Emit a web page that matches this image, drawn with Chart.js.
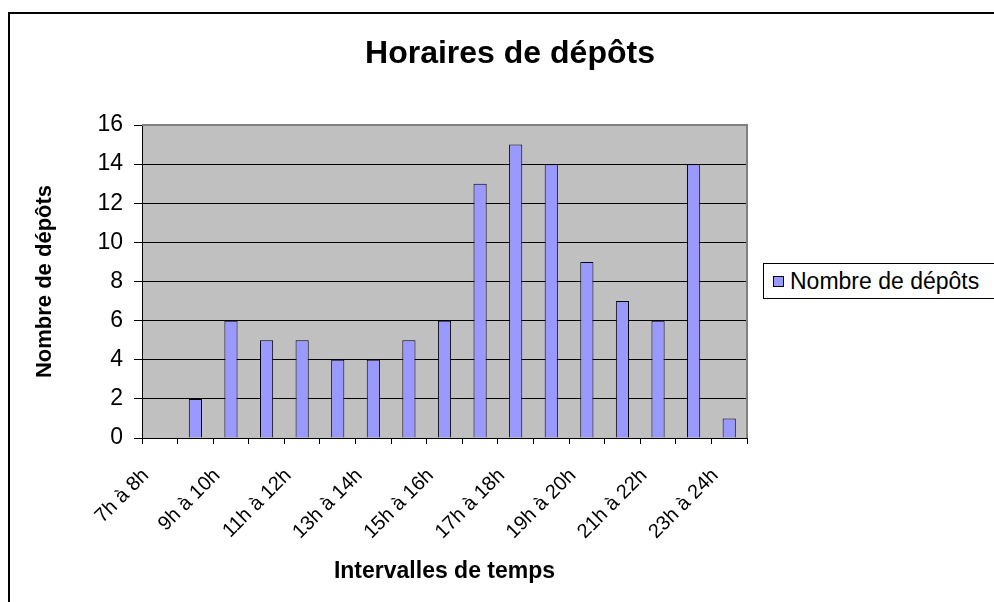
<!DOCTYPE html>
<html lang="fr">
<head>
<meta charset="utf-8">
<title>Horaires de dépôts</title>
<script src="https://cdn.jsdelivr.net/npm/chart.js@4/dist/chart.umd.min.js"></script>
<style>
    body { margin: 0; background: #fff; font-family: "Liberation Sans", Arial, sans-serif; }
    #wrap { position: relative; width: 994px; height: 602px; overflow: hidden; }
    #frame { position: absolute; left: 8px; top: 12px; width: 1000px; height: 600px;
             border-left: 2px solid #000; border-top: 2px solid #000; }
    #chart { position: absolute; left: 0; top: 0; }
    #title { position: absolute; left: 310px; top: 36px; width: 400px; text-align: center;
             font-weight: bold; font-size: 32px; line-height: 32px; color: #000; }
    #legend { position: absolute; left: 763px; top: 263px; width: 260px; height: 34px;
              border: 1px solid #000; background: #fff; font-size: 23px; line-height: 34px;
              white-space: nowrap; }
    #legend span.box { display: inline-block; width: 9px; height: 9px; background: #9999FF;
                       border: 1px solid #000; margin: 0 6px 0 9px; vertical-align: 2px; }
</style>
</head>
<body>
<div id="wrap">
    <div id="frame"></div>
    <canvas id="chart" width="994" height="602"></canvas>
    <div id="title">Horaires de dépôts</div>
    <div id="legend"><span class="box"></span>Nombre de dépôts</div>
</div>
<script>
const categories = ["7h à 8h", "8h à 9h", "9h à 10h", "10h à 11h", "11h à 12h", "12h à 13h",
    "13h à 14h", "14h à 15h", "15h à 16h", "16h à 17h", "17h à 18h", "18h à 19h",
    "19h à 20h", "20h à 21h", "21h à 22h", "22h à 23h", "23h à 24h"];
const depots = [0, 2, 6, 5, 5, 4, 4, 5, 6, 13, 15, 14, 9, 7, 6, 14, 1];
const yTicks = [0, 2, 4, 6, 8, 10, 12, 14, 16];

const FONT = '"Liberation Sans", Arial, sans-serif';

// gray plot area like the spreadsheet chart
const plotBackground = {
    id: "plotBackground",
    beforeDraw(chart) {
        const { ctx, chartArea: a } = chart;
        ctx.save();
        ctx.fillStyle = "#C0C0C0";
        ctx.fillRect(a.left, a.top, a.right - a.left, a.bottom - a.top);
        ctx.restore();
    },
    beforeDatasetsDraw(chart) {
        const { ctx, chartArea: a } = chart;
        ctx.save();
        ctx.strokeStyle = "#808080";
        ctx.lineWidth = 2;
        ctx.beginPath();
        ctx.moveTo(a.left, a.top);
        ctx.lineTo(a.right, a.top);
        ctx.lineTo(a.right, a.bottom);
        ctx.stroke();
        ctx.restore();
    }
};

new Chart(document.getElementById("chart"), {
    type: "bar",
    data: {
        labels: categories,
        datasets: [{
            label: "Nombre de dépôts",
            data: depots,
            backgroundColor: "#9999FF",
            borderColor: "#000",
            borderWidth: 1,
            categoryPercentage: 1,
            barPercentage: 0.37
        }]
    },
    options: {
        responsive: false,
        animation: false,
        devicePixelRatio: 1,
        layout: { padding: { top: 125, right: 247, bottom: 0, left: 0 } },
        plugins: {
            legend: { display: false },
            title: { display: false },
            tooltip: { enabled: false }
        },
        scales: {
            x: {
                afterFit: scale => { scale.height = 164; },
                grid: { drawOnChartArea: false, drawTicks: true, tickLength: 6, color: "#000", offset: true },
                border: { color: "#000", width: 1 },
                ticks: {
                    autoSkip: false,
                    maxRotation: 45,
                    minRotation: 45,
                    padding: 20,
                    labelOffset: -14,
                    color: "#000",
                    font: { family: FONT, size: 20 },
                    callback: function (v, i) { return i % 2 === 0 ? this.getLabelForValue(v) : ""; }
                },
                title: {
                    display: true,
                    text: "Intervalles de temps",
                    color: "#000",
                    font: { family: FONT, size: 23, weight: "bold" },
                    padding: { top: 0, bottom: 17 }
                }
            },
            y: {
                min: 0,
                max: 16,
                afterFit: scale => { scale.width = 142; },
                afterBuildTicks: scale => { scale.ticks = yTicks.map(v => ({ value: v })); },
                grid: {
                    color: ctx => (ctx.tick && ctx.tick.value === 16 ? "#808080" : "#000"),
                    tickColor: "#000",
                    tickLength: 8
                },
                border: { color: "#000", width: 1 },
                ticks: {
                    padding: 11,
                    color: "#000",
                    font: { family: FONT, size: 23 }
                },
                title: {
                    display: true,
                    text: "Nombre de dépôts",
                    color: "#000",
                    font: { family: FONT, size: 22, weight: "bold" },
                    padding: { top: 32, bottom: 0 }
                }
            }
        }
    },
    plugins: [plotBackground]
});
</script>
</body>
</html>
